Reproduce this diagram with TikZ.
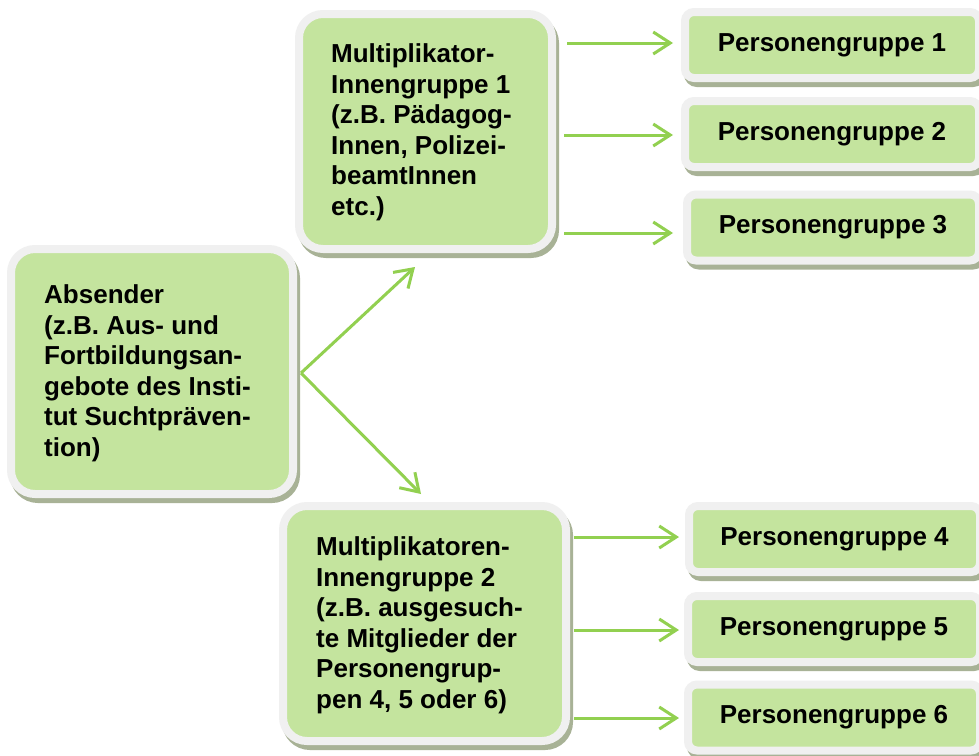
\documentclass[tikz,border=0pt]{standalone}
\usepackage{fontspec}
\setmainfont{Liberation Sans}
\usetikzlibrary{arrows.meta,calc}
\definecolor{boxgreen}{RGB}{196,228,158}
\definecolor{rimgray}{RGB}{240,240,240}
\definecolor{shadowc}{RGB}{168,178,150}
\definecolor{arrgreen}{RGB}{146,208,80}
\tikzset{
  boxbase/.style={rectangle, fill=boxgreen, draw=rimgray, line width=8pt, inner sep=0pt,
    preaction={draw=shadowc, fill=shadowc, line width=8pt, transform canvas={xshift=3pt,yshift=-5pt}}},
  bigbox/.style={boxbase, rounded corners=24pt},
  pgbox/.style={boxbase, rounded corners=9pt, minimum height=66pt,
    font=\bfseries\fontsize{26pt}{30.5pt}\selectfont},
  txt/.style={inner sep=0pt, align=left, font=\bfseries\fontsize{26pt}{30.5pt}\selectfont},
  arr/.style={draw=arrgreen, line width=3pt, -{Straight Barb[length=17pt,width=22pt]}}
}
\begin{document}
\begin{tikzpicture}[x=1pt,y=-1pt]
\useasboundingbox (0,0) rectangle (979,755);
\clip (0,0) rectangle (979,755);
\fill[white] (0,0) rectangle (979,755);

\node[bigbox, minimum width=282pt, minimum height=245pt] (abs) at (152,371.5) {};
\node[txt, anchor=west] (abst) at ([xshift=37pt,yshift=-2pt]abs.west) {Absender\\(z.B. Aus- und\\Fortbildungsan-\\gebote des Insti-\\tut Suchtpräven-\\tion)};

\node[bigbox, minimum width=253pt, minimum height=235pt] (m1) at (425.5,131.5) {};
\node[txt, anchor=west] (m1t) at ([xshift=36pt,yshift=-1pt]m1.west) {Multiplikator-\\Innengruppe 1\\(z.B. Pädagog-\\Innen, Polizei-\\beamtInnen\\etc.)};

\node[bigbox, minimum width=283pt, minimum height=235pt] (m2) at (424.5,623.5) {};
\node[txt, anchor=west] (m2t) at ([xshift=37pt,yshift=-2pt]m2.west) {Multiplikatoren-\\Innengruppe 2\\(z.B. ausgesuch-\\te Mitglieder der\\Personengrup-\\pen 4, 5 oder 6)};

\node[pgbox, minimum width=294pt] (pg1) at (832,45) {Personengruppe 1};
\node[pgbox, minimum width=294pt] (pg2) at (832,134) {Personengruppe 2};
\node[pgbox, minimum width=292pt] (pg3) at (833,227.5) {Personengruppe 3};
\node[pgbox, minimum width=291pt] (pg4) at (834.5,539) {Personengruppe 4};
\node[pgbox, minimum width=292pt] (pg5) at (834,629) {Personengruppe 5};
\node[pgbox, minimum width=292pt] (pg6) at (834,717.5) {Personengruppe 6};

\coordinate (j) at ($(abs.east)+(4,1.5)$);
\coordinate (e1) at ($(m1.south)+(-10.5,14)$);
\coordinate (e2) at ($(m2.north)+(-3.5,-8)$);
\draw[arr] (j) -- (e1);
\draw[arr] (j) -- (e2);

\draw[arr] ($(m1.east |- pg1.west)+(11,-2)$) -- ($(pg1.west)+(-8,-2)$);
\draw[arr] ($(m1.east |- pg2.west)+(8,1)$) -- ($(pg2.west)+(-8,1)$);
\draw[arr] ($(m1.east |- pg3.west)+(8,5.5)$) -- ($(pg3.west)+(-10,5.5)$);
\draw[arr] ($(m2.east |- pg4.west)+(4,-2)$) -- ($(pg4.west)+(-6,-2)$);
\draw[arr] ($(m2.east |- pg5.west)+(4,1)$) -- ($(pg5.west)+(-5,1)$);
\draw[arr] ($(m2.east |- pg6.west)+(4,0.5)$) -- ($(pg6.west)+(-5,0.5)$);
\end{tikzpicture}
\end{document}
